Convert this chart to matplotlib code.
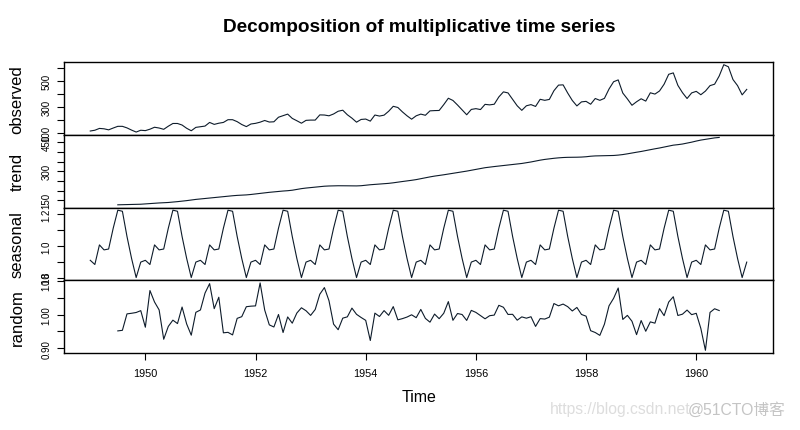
import numpy as np
import matplotlib
matplotlib.use('Agg')
import matplotlib.pyplot as plt

# AirPassengers, monthly 1949-1960
observed = [112, 118, 132, 129, 121, 135, 148, 148, 136, 119, 104, 118,
            115, 126, 141, 135, 125, 149, 170, 170, 158, 133, 114, 140,
            145, 150, 178, 163, 172, 178, 199, 199, 184, 162, 146, 166,
            171, 180, 193, 181, 183, 218, 230, 242, 209, 191, 172, 194,
            196, 196, 236, 235, 229, 243, 264, 272, 237, 211, 180, 201,
            204, 188, 235, 227, 234, 264, 302, 293, 259, 229, 203, 229,
            242, 233, 267, 269, 270, 315, 364, 347, 312, 274, 237, 278,
            284, 277, 317, 313, 318, 374, 413, 405, 355, 306, 271, 306,
            315, 301, 356, 348, 355, 422, 465, 467, 404, 347, 305, 336,
            340, 318, 362, 348, 363, 435, 491, 505, 404, 359, 310, 337,
            360, 342, 406, 396, 420, 472, 548, 559, 463, 407, 362, 405,
            417, 391, 419, 461, 472, 535, 622, 606, 508, 461, 390, 432]

# trend and random start Jul 1949, end Jun 1960
trend = [126.8, 127.2, 128.0, 128.6, 129.0, 129.8, 131.2, 133.1, 134.9, 136.4, 137.4, 138.8,
         140.9, 143.2, 145.7, 148.4, 151.5, 154.7, 157.1, 159.5, 161.8, 164.1, 166.7, 169.1,
         171.2, 173.6, 175.5, 176.8, 178.0, 180.2, 183.1, 186.2, 189.0, 191.3, 193.6, 195.8,
         198.0, 199.7, 202.2, 206.2, 210.4, 213.4, 215.8, 218.5, 220.9, 222.9, 224.1, 224.7,
         225.3, 225.3, 225.0, 224.6, 224.5, 225.5, 228.0, 230.5, 232.2, 233.9, 235.6, 237.7,
         240.5, 244.0, 247.2, 250.2, 253.5, 257.1, 261.8, 266.7, 271.1, 275.2, 278.5, 282.0,
         285.8, 289.3, 293.2, 297.2, 301.0, 305.5, 310.0, 314.4, 318.6, 321.7, 324.5, 327.1,
         329.5, 331.8, 334.5, 337.5, 340.5, 344.1, 348.2, 353.0, 357.6, 361.4, 364.5, 367.2,
         369.5, 371.2, 372.2, 372.4, 372.8, 373.6, 375.2, 377.9, 379.5, 380.0, 380.7, 381.0,
         381.8, 383.7, 386.5, 390.3, 394.7, 398.6, 402.5, 407.2, 411.9, 416.3, 420.5, 425.5,
         430.7, 435.1, 437.7, 441.0, 445.8, 450.6, 456.3, 461.4, 465.2, 469.3, 472.7, 475.0]

# seasonal figure, Jan..Dec
seasonal_figure = [0.9102, 0.8836, 1.0074, 0.9759, 0.9814, 1.1128,
                   1.2266, 1.2199, 1.0605, 0.9218, 0.8012, 0.8988]

random_part = [0.9517, 0.9534, 1.0022, 1.0040, 1.0063, 1.0118, 0.9626, 1.0715, 1.0374, 1.0140, 0.9269, 0.9650,
               0.9836, 0.9734, 1.0225, 0.9722, 0.9390, 1.0068, 1.0138, 1.0640, 1.0919, 1.0177, 1.0516, 0.9460,
               0.9474, 0.9398, 0.9889, 0.9939, 1.0235, 1.0251, 1.0259, 1.0940, 1.0135, 0.9696, 0.9633, 1.0004,
               0.9469, 0.9931, 0.9746, 1.0047, 1.0203, 1.0115, 0.9977, 1.0152, 1.0605, 1.0802, 1.0413, 0.9718,
               0.9552, 0.9895, 0.9934, 1.0193, 1.0009, 0.9915, 0.9830, 0.9232, 1.0044, 0.9944, 1.0119, 0.9979,
               1.0238, 0.9845, 0.9881, 0.9928, 0.9995, 0.9909, 1.0154, 0.9888, 0.9776, 1.0016, 0.9879, 1.0040,
               1.0386, 0.9831, 1.0033, 1.0003, 0.9828, 1.0126, 1.0066, 0.9970, 0.9876, 0.9968, 0.9986, 1.0276,
               1.0218, 1.0005, 1.0009, 0.9835, 0.9933, 0.9894, 0.9937, 0.9650, 0.9882, 0.9868, 0.9924, 1.0329,
               1.0261, 1.0313, 1.0236, 1.0108, 1.0213, 1.0005, 0.9954, 0.9523, 0.9469, 0.9384, 0.9716, 1.0261,
               1.0484, 1.0790, 0.9857, 0.9978, 0.9803, 0.9406, 0.9825, 0.9506, 0.9785, 0.9746, 1.0178, 0.9969,
               1.0373, 1.0531, 0.9974, 1.0013, 1.0135, 0.9999, 1.0039, 0.9591, 0.8941, 1.0065, 1.0174, 1.0121]

names = ['observed', 'trend', 'seasonal', 'random']
x_ticks = [1950, 1952, 1954, 1956, 1958, 1960]
y_ticks = [[100, 200, 300, 400, 500, 600],
           [150, 200, 250, 300, 350, 400, 450],
           [0.8, 0.9, 1.0, 1.1, 1.2],
           [0.90, 0.95, 1.00, 1.05, 1.10]]
y_labels = [['100', '', '300', '', '500', ''],
            ['150', '', '', '300', '', '', '450'],
            ['0.8', '', '1.0', '', '1.2'],
            ['0.90', '', '1.00', '', '1.10']]

t_obs = 1949 + np.arange(len(observed)) / 12
t_mid = 1949.5 + np.arange(len(trend)) / 12
t_seas = 1949 + np.arange(12 * 12) / 12
seasonal = np.tile(seasonal_figure, 12)

data = [(t_obs, observed), (t_mid, trend), (t_seas, seasonal), (t_mid, random_part)]

plt.rcParams['font.family'] = ['Liberation Sans', 'Noto Sans CJK SC', 'DejaVu Sans']
fig = plt.figure(figsize=(8, 4.31), dpi=100)

# panel box in pixels (R style stacked panels)
left, right, top, bottom = 64, 773, 63, 354
h = (bottom - top) / 4
xspan = t_obs[-1] - t_obs[0]

for k in range(4):
    y0 = top + k * h
    ax = fig.add_axes([left / 800, 1 - (y0 + h) / 431, (right - left) / 800, h / 431])
    tt, yy = data[k]
    ax.plot(tt, yy, color='#0d1b2a', lw=0.8)
    ax.set_xlim(t_obs[0] - 0.04 * xspan, t_obs[-1] + 0.04 * xspan)
    lo, hi = min(yy), max(yy)
    ax.set_ylim(lo - 0.04 * (hi - lo), hi + 0.04 * (hi - lo))
    ax.set_yticks(y_ticks[k])
    ax.set_yticklabels(y_labels[k])
    ax.tick_params(axis='y', direction='out', length=5, width=0.8, labelsize=7, labelrotation=90, pad=4)
    for lbl in ax.get_yticklabels():
        lbl.set_va('center')
    for s in ax.spines.values():
        s.set_linewidth(1.0)
    if k < 3:
        ax.set_xticks([])
    else:
        ax.set_xticks(x_ticks)
        ax.tick_params(axis='x', direction='out', length=5, width=0.8, labelsize=7.8, pad=5.5)
    fig.text(17 / 800, 1 - (y0 + h / 2) / 431, names[k], rotation=90, ha='center', va='center', fontsize=12)

fig.text(419 / 800, 1 - 28 / 431, 'Decomposition of multiplicative time series', ha='center', va='center',
         fontsize=13.7, fontweight='bold')
fig.text(419 / 800, 1 - 398 / 431, 'Time', ha='center', va='center', fontsize=11.5)

# watermark
fig.text(550 / 800, 1 - 410 / 431, 'https://blog.csdn.net', ha='left', va='center', fontsize=11.3, color='#dddddd')
fig.text(688 / 800, 1 - 410 / 431, '@51CTO博客', ha='left', va='center', fontsize=11.3, color='#c4c4c4')

fig.savefig('out.png', dpi=100)
